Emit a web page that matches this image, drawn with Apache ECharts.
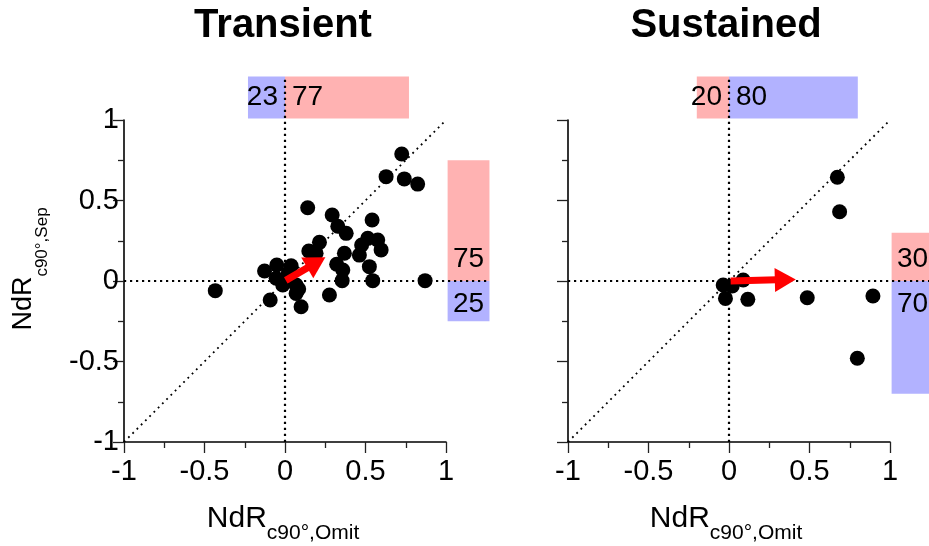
<!DOCTYPE html>
<html><head><meta charset="utf-8">
<script src="https://cdn.jsdelivr.net/npm/echarts@6/dist/echarts.min.js"></script>
<style>html,body{margin:0;padding:0;background:#fff}#c{width:929px;height:546px}</style>
</head><body><div id="c"></div>
<script>
// ---------- data ----------
const panelTitles = ['Transient', 'Sustained'];
const xAxisMain = 'NdR', xAxisSub = 'c90°,Omit';
const yAxisMain = 'NdR', yAxisSub = 'c90°,Sep';
const tickValues = [-1, -0.5, 0, 0.5, 1];

const transientPoints = [
  [0.725,0.789],[0.628,0.648],[0.741,0.634],[0.824,0.602],
  [0.141,0.455],[0.293,0.410],[0.328,0.340],[0.380,0.296],[0.541,0.379],
  [0.214,0.240],[0.148,0.186],[0.193,0.172],[0.514,0.265],[0.576,0.255],
  [0.462,0.161],[0.476,0.224],[0.597,0.193],[0.369,0.172],[0.321,0.104],
  [0.359,0.068],[0.524,0.089],[0.355,0.002],[0.545,0.002],[0.870,0.002],
  [-0.433,-0.060],[-0.127,0.062],[-0.051,0.099],[0.038,0.095],[-0.055,0.017],
  [-0.014,-0.025],[0.069,-0.025],[0.069,-0.077],[-0.092,-0.118],[0.100,-0.160],
  [0.276,-0.087],[0.085,-0.050],[0.020,0.050]
];
const sustainedPoints = [
  [0.673,0.644],[0.687,0.430],[-0.036,-0.025],[0.020,-0.031],[0.088,0.006],
  [-0.022,-0.108],[0.117,-0.114],[0.486,-0.104],[0.894,-0.093],[0.797,-0.480]
];
// mean vector: [x0, y0, x1, y1]
const transientArrow = [0.005, 0.004, 0.251, 0.147];
const sustainedArrow = [0.010, 0.000, 0.415, 0.010];
// percentages: top bar [x<0, x>0], side bar [y>0, y<0]
const topBarPercents = [[23, 77], [20, 80]];
const sideBarPercents = [[75, 25], [30, 70]];

// ---------- styles / layout ----------
const FONT = '"Liberation Sans", Arial, Helvetica, sans-serif';
const RED = 'rgb(255,178,178)', BLUE = 'rgb(178,178,255)';
const topBarColors = [[BLUE, RED], [RED, BLUE]];
const sideBarColors = [[RED, BLUE], [RED, BLUE]];
const BAND = [1.01, 1.27];   // bar band outside the axes (data units)
const gridLefts = [124, 568];

const chart = echarts.init(document.getElementById('c'), null, {renderer: 'canvas'});

function measure(txt, font) {
  const c = document.createElement('canvas').getContext('2d');
  c.font = font; return c.measureText(txt).width;
}
function axisName(cx, baseY, main, sub, mainSize, subSize, drop, rotate) {
  const w1 = measure(main, mainSize + 'px ' + FONT);
  const w2 = measure(sub, subSize + 'px ' + FONT);
  const total = w1 + w2;
  return {
    type: 'group', x: rotate ? baseY : cx, y: rotate ? cx : baseY,
    rotation: rotate ? Math.PI / 2 : 0,
    children: [
      {type: 'text', x: -total / 2, y: -0.36 * mainSize,
       style: {text: main, font: mainSize + 'px ' + FONT, fill: '#000', textAlign: 'left', textVerticalAlign: 'middle'}},
      {type: 'text', x: -total / 2 + w1, y: drop - 0.36 * subSize,
       style: {text: sub, font: subSize + 'px ' + FONT, fill: '#000', textAlign: 'left', textVerticalAlign: 'middle'}}
    ]
  };
}

function makeAxes(i) {
  const common = {
    type: 'value', min: -1, max: 1, interval: 0.5, gridIndex: i,
    splitLine: {show: false},
    axisLine: {show: true, onZero: false, lineStyle: {color: '#000', width: 1.6}},
    axisTick: {show: true, length: 11, lineStyle: {color: '#222', width: 1.3}},
    minorTick: {show: true, splitNumber: 2, length: 6, lineStyle: {color: '#222', width: 1.3}},
    minorSplitLine: {show: false}
  };
  const fmt = v => String(v);
  const x = Object.assign({}, common, {
    axisLabel: {show: true, fontSize: 29, fontFamily: FONT, color: '#000', margin: 15, formatter: fmt,
      customValues: tickValues}
  });
  const y = Object.assign({}, common, {
    axisLabel: {show: i === 0, fontSize: 29, fontFamily: FONT, color: '#000', margin: 5, formatter: fmt}
  });
  return {x, y};
}

const xAxes = [], yAxes = [], grids = [], series = [];
[0, 1].forEach(i => {
  grids.push({left: gridLefts[i], top: 120, width: 322, height: 322});
  const a = makeAxes(i);
  xAxes.push(a.x); yAxes.push(a.y);

  // bars (top and side)
  const tp = topBarPercents[i], sp = sideBarPercents[i];
  const barData = [
    [-tp[0] / 100, 0, BAND[0], BAND[1], tp[0], 0],
    [0, tp[1] / 100, BAND[0], BAND[1], tp[1], 1],
    [BAND[0], BAND[1], 0, sp[0] / 100, sp[0], 2],
    [BAND[0], BAND[1], -sp[1] / 100, 0, sp[1], 3]
  ];
  series.push({
    type: 'custom', xAxisIndex: i, yAxisIndex: i, z: 1, silent: true, clip: false,
    data: barData,
    renderItem: (params, api) => {
      const x0 = api.value(0), x1 = api.value(1), y0 = api.value(2), y1 = api.value(3);
      const lab = api.value(4), kind = api.value(5);
      const p0 = api.coord([x0, y1]), p1 = api.coord([x1, y0]);
      const color = kind < 2 ? topBarColors[i][kind] : sideBarColors[i][kind - 2];
      let tx, ty, ta, tv;
      if (kind === 0) { tx = p1[0] - 7; ty = (p0[1] + p1[1]) / 2; ta = 'right'; tv = 'middle'; }
      else if (kind === 1) { tx = p0[0] + 7; ty = (p0[1] + p1[1]) / 2; ta = 'left'; tv = 'middle'; }
      else if (kind === 2) { tx = (p0[0] + p1[0]) / 2; ty = p1[1] - 8; ta = 'center'; tv = 'bottom'; }
      else { tx = (p0[0] + p1[0]) / 2; ty = p0[1] + 9; ta = 'center'; tv = 'top'; }
      return {type: 'group', children: [
        {type: 'rect', shape: {x: p0[0], y: p0[1], width: p1[0] - p0[0], height: p1[1] - p0[1]},
         style: {fill: color}},
        {type: 'text', x: tx, y: ty, z2: 5,
         style: {text: String(lab), font: '28px ' + FONT, fill: '#000', textAlign: ta, textVerticalAlign: tv}}
      ]};
    }
  });

  // dotted reference lines: [x0,y0,x1,y1,kind]
  const lineData = [
    [-1, 0, BAND[1], 0, 0],
    [0, -1, 0, BAND[1], 0],
    [-1, -1, 1, 1, 1]
  ];
  series.push({
    type: 'custom', xAxisIndex: i, yAxisIndex: i, z: 2, silent: true, clip: false,
    data: lineData,
    renderItem: (params, api) => {
      const a0 = api.coord([api.value(0), api.value(1)]);
      const a1 = api.coord([api.value(2), api.value(3)]);
      const diag = api.value(4) === 1;
      return {type: 'line', shape: {x1: a0[0], y1: a0[1], x2: a1[0], y2: a1[1]},
        style: {stroke: '#000', lineWidth: diag ? 1.8 : 2.2, lineDash: diag ? [1.8, 4.2] : [2.2, 3.8], lineCap: 'butt'}};
    }
  });

  series.push({
    type: 'scatter', xAxisIndex: i, yAxisIndex: i, z: 3, silent: true,
    symbol: 'circle', symbolSize: 15, itemStyle: {color: '#000', opacity: 1},
    data: i === 0 ? transientPoints : sustainedPoints
  });

  const arr = i === 0 ? transientArrow : sustainedArrow;
  series.push({
    type: 'custom', xAxisIndex: i, yAxisIndex: i, z: 4, silent: true, clip: false,
    data: [arr],
    renderItem: (params, api) => {
      const s = api.coord([api.value(0), api.value(1)]);
      const e = api.coord([api.value(2), api.value(3)]);
      const dx = e[0] - s[0], dy = e[1] - s[1], L = Math.hypot(dx, dy);
      const ux = dx / L, uy = dy / L, HL = 21, HW = 12;
      const bx = e[0] - ux * HL, by = e[1] - uy * HL;
      return {type: 'group', children: [
        {type: 'line', shape: {x1: s[0], y1: s[1], x2: bx + ux * 2, y2: by + uy * 2},
         style: {stroke: '#ff0000', lineWidth: 7, lineCap: 'butt'}},
        {type: 'polygon', shape: {points: [[e[0], e[1]], [bx - uy * HW, by + ux * HW], [bx + uy * HW, by - ux * HW]]},
         style: {fill: '#ff0000'}}
      ]};
    }
  });
});

const graphics = [
  {type: 'text', x: 283, y: 26, style: {text: panelTitles[0], font: 'bold 40px ' + FONT, fill: '#000', textAlign: 'center', textVerticalAlign: 'middle'}},
  {type: 'text', x: 726, y: 26, style: {text: panelTitles[1], font: 'bold 40px ' + FONT, fill: '#000', textAlign: 'center', textVerticalAlign: 'middle'}},
  axisName(283, 530, xAxisMain, xAxisSub, 30, 21, 11, false),
  axisName(726, 530, xAxisMain, xAxisSub, 30, 21, 11, false),
  axisName(269, 33, yAxisMain, yAxisSub, 27, 17, 15, true)
];

chart.setOption({
  animation: false,
  backgroundColor: '#fff',
  grid: grids, xAxis: xAxes, yAxis: yAxes, series: series,
  graphic: graphics
});
</script></body></html>
